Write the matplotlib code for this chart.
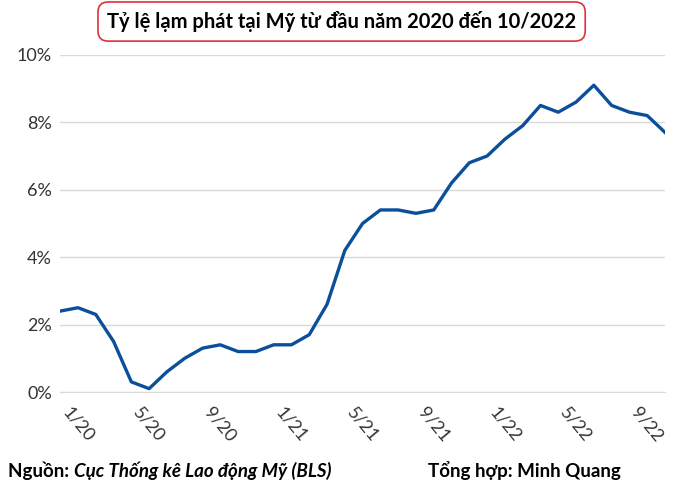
import matplotlib
matplotlib.use("Agg")
import matplotlib.pyplot as plt

months = ["12/19","1/20","2/20","3/20","4/20","5/20","6/20","7/20","8/20","9/20","10/20","11/20","12/20",
          "1/21","2/21","3/21","4/21","5/21","6/21","7/21","8/21","9/21","10/21","11/21","12/21",
          "1/22","2/22","3/22","4/22","5/22","6/22","7/22","8/22","9/22","10/22"]
inflation = [2.4,2.5,2.3,1.5,0.3,0.1,0.6,1.0,1.3,1.4,1.2,1.2,1.4,
             1.4,1.7,2.6,4.2,5.0,5.4,5.4,5.3,5.4,6.2,6.8,7.0,
             7.5,7.9,8.5,8.3,8.6,9.1,8.5,8.3,8.2,7.7]
tick_labels = ["1/20","5/20","9/20","1/21","5/21","9/21","1/22","5/22","9/22"]
yticks = [0,2,4,6,8,10]

plt.rcParams["font.family"] = "Lato"
fig = plt.figure(figsize=(7,4.9), dpi=100)
ax = fig.add_axes([0.086,0.2,0.864,0.688])
x = list(range(len(months)))
ax.plot(x, inflation, color="#0b4f9c", lw=2.4)
ax.set_xlim(0, len(months)-1)
ax.set_ylim(0,10)
ax.set_yticks(yticks)
ax.set_yticklabels([f"{v}%" for v in yticks], fontsize=13, color="#333333")
tpos = [months.index(t) for t in tick_labels]
ax.set_xticks(tpos)
ax.set_xticklabels(tick_labels, rotation=-50, ha="center", va="top", fontsize=13, color="#333333")
ax.tick_params(axis="x", length=0, pad=9)
ax.tick_params(axis="y", length=0, pad=6)
ax.grid(axis="y", color="#d9d9d9", lw=1)
ax.set_axisbelow(True)
for s in ["top","right","left"]:
    ax.spines[s].set_visible(False)
ax.spines["bottom"].set_color("#d9d9d9")

fig.text(0.488, 0.956, "Tỷ lệ lạm phát tại Mỹ từ đầu năm 2020 đến 10/2022", ha="center", va="center",
         fontsize=14.5, fontweight="bold",
         bbox=dict(boxstyle="round,pad=0.45,rounding_size=0.5", fc="white", ec="#e0303a", lw=1.2))
t1 = fig.text(0.012, 0.04, "Nguồn: ", fontsize=13.5, fontweight="bold", va="center")
fig.canvas.draw()
bb = t1.get_window_extent()
fig.text(bb.x1/700, 0.04, "Cục Thống kê Lao động Mỹ (BLS)", fontsize=13.5, fontweight="bold",
         fontstyle="italic", va="center")
fig.text(0.612, 0.04, "Tổng hợp: Minh Quang", fontsize=13.5, fontweight="bold", va="center")
fig.savefig("out.png", dpi=100)
